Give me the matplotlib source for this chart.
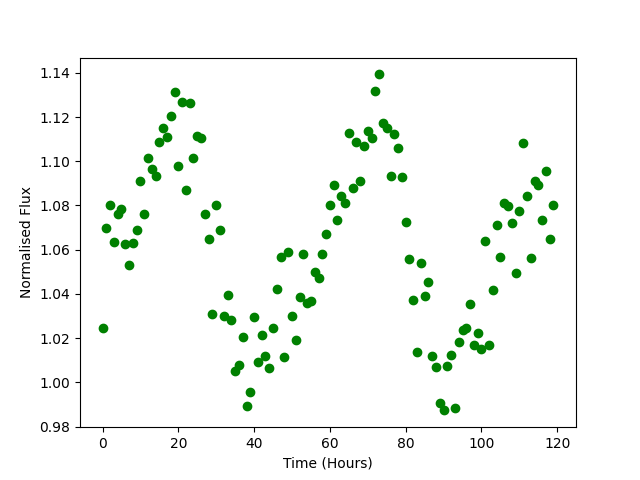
import numpy as np
import matplotlib
matplotlib.use("Agg")
import matplotlib.pyplot as plt


# hourly samples
time_hours = np.arange(120)
flux = [
    1.0247, 1.0699, 1.0800, 1.0636, 1.0763, 1.0785, 1.0627, 1.0532, 1.0632, 1.0690,
    1.0912, 1.0760, 1.1016, 1.0963, 1.0934, 1.1088, 1.1151, 1.1111, 1.1206, 1.1314,
    1.0978, 1.1269, 1.0871, 1.1264, 1.1016, 1.1115, 1.1104, 1.0763, 1.0650, 1.0311,
    1.0800, 1.0690, 1.0302, 1.0397, 1.0284, 1.0049, 1.0077, 1.0204, 0.9895, 0.9954,
    1.0297, 1.0094, 1.0216, 1.0121, 1.0067, 1.0244, 1.0424, 1.0568, 1.0116, 1.0591,
    1.0302, 1.0193, 1.0388, 1.0582, 1.0360, 1.0369, 1.0501, 1.0473, 1.0582, 1.0672,
    1.0802, 1.0894, 1.0736, 1.0842, 1.0809, 1.1129, 1.0880, 1.1088, 1.0913, 1.1070,
    1.1135, 1.1106, 1.1317, 1.1393, 1.1172, 1.1151, 1.0934, 1.1124, 1.1061, 1.0927,
    1.0727, 1.0559, 1.0371, 1.0139, 1.0541, 1.0392, 1.0455, 1.0121, 1.0068, 0.9907,
    0.9873, 1.0073, 1.0122, 0.9886, 1.0184, 1.0238, 1.0244, 1.0356, 1.0168, 1.0225,
    1.0153, 1.0641, 1.0168, 1.0416, 1.0710, 1.0568, 1.0812, 1.0797, 1.0719, 1.0496,
    1.0776, 1.1084, 1.0845, 1.0564, 1.0912, 1.0894, 1.0736, 1.0957, 1.0650, 1.0803,
]

fig, ax = plt.subplots(figsize=(6.4, 4.8), dpi=100)
ax.plot(time_hours, flux, "go")
ax.set_xlabel("Time (Hours)")
ax.set_ylabel("Normalised Flux")

fig.savefig("out.png")
